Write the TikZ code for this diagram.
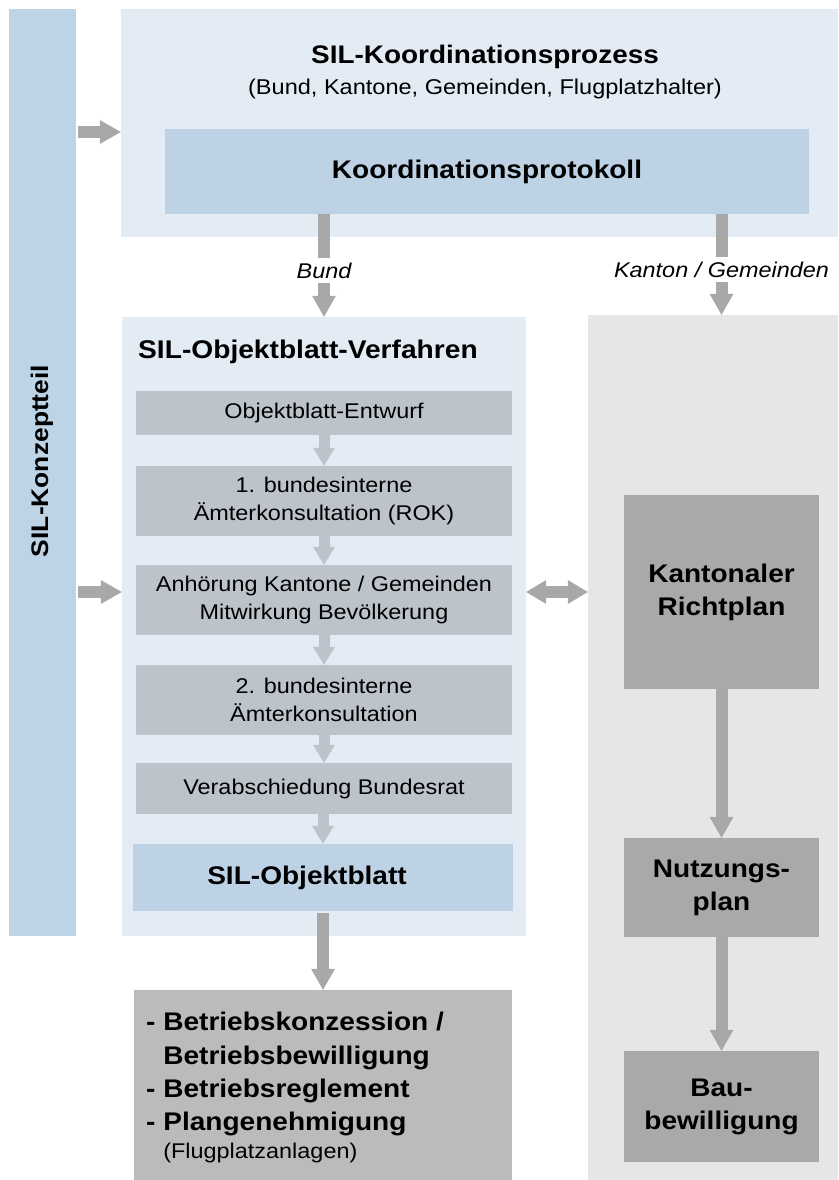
\documentclass[tikz,border=0pt]{standalone}
\usepackage{fontspec}
\setmainfont[FakeStretch=1.1]{Liberation Sans}
\usetikzlibrary{arrows.meta,calc}
\definecolor{barblue}{HTML}{BDD3E6}
\definecolor{paleblue}{HTML}{E3EBF4}
\definecolor{midblue}{HTML}{BDD2E4}
\definecolor{stepgray}{HTML}{BCC3CB}
\definecolor{rightgray}{HTML}{E6E6E6}
\definecolor{darkbox}{HTML}{A9A9A9}
\definecolor{botbox}{HTML}{BBBBBB}
\definecolor{arrowgray}{HTML}{A8A8A8}
\newcommand\fs[2]{\fontsize{#1}{#2}\selectfont}
\begin{document}
\begin{tikzpicture}[x=1pt,y=-1pt,
  area/.style={rectangle,inner sep=0pt,draw=none},
  bigarrow/.style={draw=arrowgray,line width=12pt,-{Triangle[width=24pt,length=21pt,line width=0pt]}},
  dblarrow/.style={draw=arrowgray,line width=12pt,{Triangle[width=24pt,length=20pt,line width=0pt]}-{Triangle[width=24pt,length=20pt,line width=0pt]}},
  steparrow/.style={draw=stepgray,line width=11pt,-{Triangle[width=22pt,length=18pt,line width=0pt]}},
  lbl/.style={fill=white,inner xsep=2pt,inner ysep=5pt,font=\fs{21.3}{25}\itshape},
  stepbox/.style={area,fill=stepgray,minimum width=376pt,align=center,font=\fs{21.3}{28}},
  darkbox/.style={area,fill=darkbox,minimum width=195pt,align=center,font=\fs{25.5}{33}\bfseries},
]
\useasboundingbox (0,0) rectangle (838,1180);
% background areas
\node[area,fill=barblue,minimum width=67pt,minimum height=927pt] (bar) at (42.5,472.5) {};
\node[rotate=90,font=\fs{24}{30}\bfseries] (barlabel) at (42,461) {SIL-Konzeptteil};
\node[area,fill=paleblue,minimum width=717pt,minimum height=228pt] (top) at (479.5,123) {};
\node[font=\fs{25.4}{28}\bfseries] (toptitle) at (485,57) {SIL-Koordinationsprozess};
\node[font=\fs{21.4}{24}] (topsub) at (485,89) {(Bund, Kantone, Gemeinden, Flugplatzhalter)};
\node[area,fill=midblue,minimum width=644pt,minimum height=85pt,font=\fs{25.5}{28}\bfseries] (kp) at (487,171.5) {Koordinationsprotokoll};
\node[area,fill=paleblue,minimum width=404pt,minimum height=619pt] (ov) at (324,626.5) {};
\node[anchor=west,inner sep=0pt,font=\fs{25.6}{30}\bfseries] (ovtitle) at (138,352) {SIL-Objektblatt-Verfahren};
\node[area,fill=rightgray,minimum width=250pt,minimum height=865pt] (rr) at (713,747.5) {};
% steps
\node[stepbox,minimum height=44pt] (s1) at (324,413) {Objektblatt-Entwurf};
\node[stepbox,minimum height=70pt] (s2) at (324,501) {1. bundesinterne\\Ämterkonsultation (ROK)};
\node[stepbox,minimum height=70pt] (s3) at (324,600) {Anhörung Kantone / Gemeinden\\Mitwirkung Bevölkerung};
\node[stepbox,minimum height=70pt] (s4) at (324,700) {2. bundesinterne\\Ämterkonsultation};
\node[stepbox,minimum height=51pt] (s5) at (324,788.5) {Verabschiedung Bundesrat};
\node[area,fill=midblue,minimum width=380pt,minimum height=67pt,font=\fs{25.5}{30}\bfseries] (ob) at (323,877.5) {SIL-Objektblatt\hspace*{32pt}};
% right column
\node[darkbox,minimum height=194pt] (rp) at (721.5,592) {Kantonaler\\Richtplan};
\node[darkbox,minimum height=99pt] (np) at (721.5,887.5) {Nutzungs-\\plan};
\node[darkbox,minimum height=111pt] (bb) at (721.5,1106.5) {Bau-\\bewilligung};
% bottom box
\node[area,fill=botbox,minimum width=378pt,minimum height=190pt] (bx) at (323,1085) {};
\node[anchor=north west,inner sep=0pt,align=left,font=\fs{25.5}{33.4}\bfseries] (bxtext) at (146,1012)
  {- Betriebskonzession /\\\hphantom{- }Betriebsbewilligung\\- Betriebsreglement\\- Plangenehmigung\\[-6pt]
   \hphantom{- }{\mdseries\fs{21.3}{24}(Flugplatzanlagen)}};
% helper heights
\coordinate (yA) at (0,132);
\coordinate (yB) at (0,592);
% arrows
\draw[bigarrow,shorten <=2pt] (bar.east |- yA) -- (top.west |- yA);
\draw[bigarrow,shorten <=2pt] (bar.east |- yB) -- (ov.west |- yB);
\draw[dblarrow] (ov.east |- yB) -- (rr.west |- yB);
\draw[bigarrow] (kp.south -| ov.north) -- node[lbl,pos=0.55] (lbund) {Bund} (ov.north);
\draw[bigarrow] (kp.south -| rp.north) -- node[lbl,pos=0.55] (lkanton) {Kanton / Gemeinden} (rr.north -| rp.north);
\draw[steparrow] (s1) -- (s2);
\draw[steparrow] (s2) -- (s3);
\draw[steparrow] (s3) -- (s4);
\draw[steparrow] (s4) -- (s5);
\draw[steparrow] (s5.south -| ob.north) -- (ob.north);
\draw[bigarrow,shorten <=2pt] (ob.south) -- (bx.north);
\draw[bigarrow] (rp) -- (np);
\draw[bigarrow] (np) -- (bb);
\end{tikzpicture}
\end{document}
